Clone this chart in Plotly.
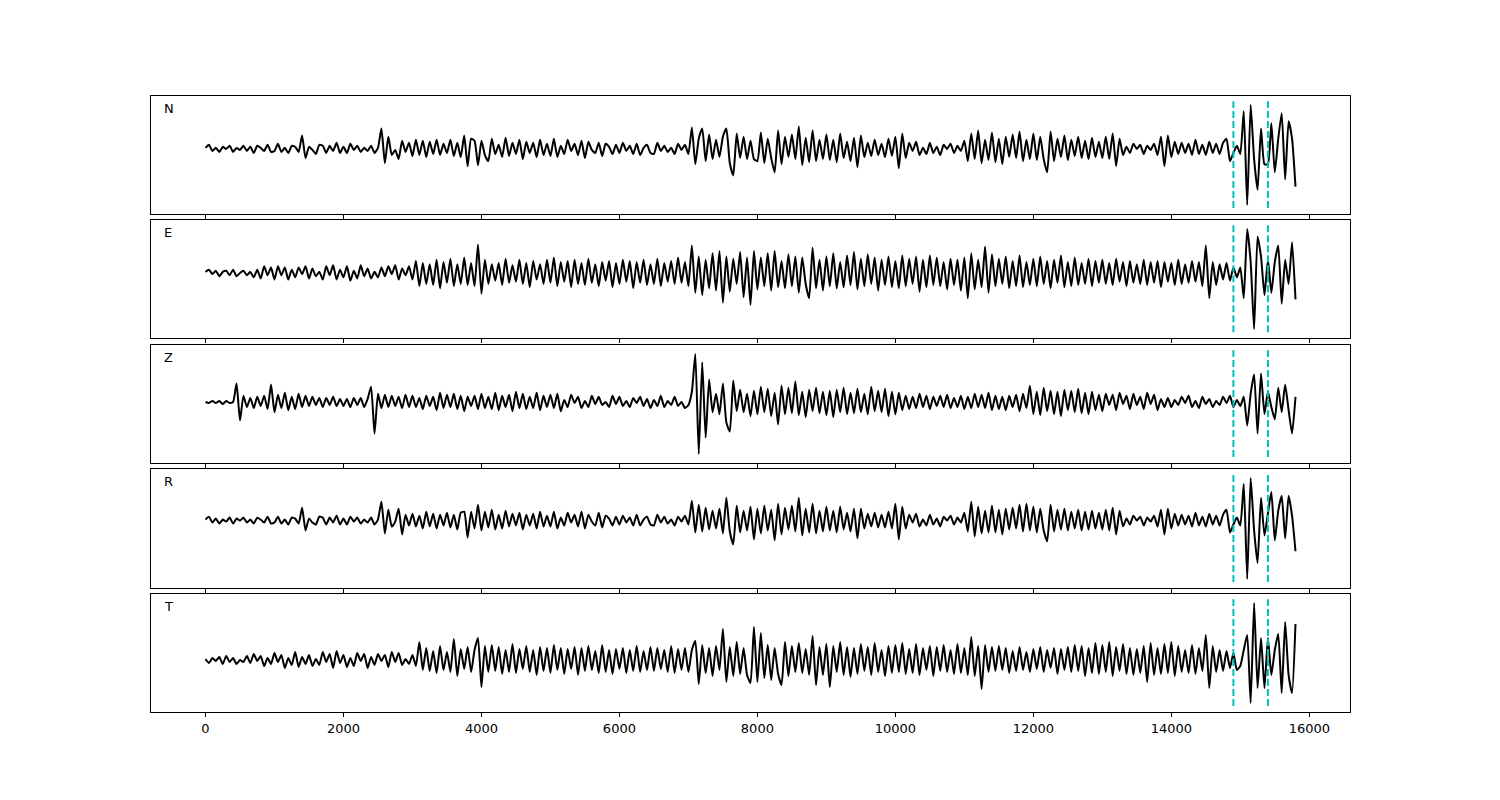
import numpy as np
import plotly.graph_objects as go

sample_step = 50
pick_times = [14900, 15400]
channel_names = ["N", "E", "Z", "R", "T"]
x_tick_values = [0, 2000, 4000, 6000, 8000, 10000, 12000, 14000, 16000]
x_tick_labels = ["0", "2000", "4000", "6000", "8000", "10000", "12000", "14000", "16000"]

north = [
    1, 4, -2, 1, -3, 2, 0, 3, -3, 1, -1, 3, -2, 2, -4, 3, 1, -2, 4, -3,
    -2, 5, -3, 1, -4, 3, 2, -3, 13, -9, 2, -1, -5, 4, 3, -4, 3, -2, 6, -4,
    2, -4, 5, -1, 3, -3, 1, -2, 3, -4, 1, 20, -14, 12, -6, -1, -10, 8, -3, 6,
    -7, 9, -6, 8, -8, 7, -5, 9, -6, 5, -4, 9, -7, 6, -8, 13, -17, 10, 8, -16,
    8, -6, -12, 10, -5, 4, -8, 11, -7, 6, -5, 9, -10, 7, -4, 6, -8, 9, -6, 5,
    -7, 10, -8, 3, -5, 9, -2, 5, -6, 8, -9, 7, -1, -4, 6, -7, 5, 2, -5, 4,
    -4, 6, -2, 3, -5, 5, -6, 1, 4, -4, -5, 6, -2, 3, -3, 1, -5, 5, -1, 4,
    -5, 21, -15, 10, 20, -12, 14, -10, 9, -8, 12, 20, -14, -26, 15, -9, 12, -10, 8, -10,
    -12, 16, -14, 10, -9, -23, 18, -15, 12, -8, 14, -10, 22, -16, 11, -13, 18, -12, 9, -10,
    14, -11, 9, -13, 15, -9, 7, -12, 11, -18, 13, -8, 6, -7, 9, -6, 5, -8, 10, -7,
    12, -19, 15, -9, 6, -2, 7, -6, 1, -5, 6, -4, 2, -6, 4, 0, 5, -4, 3, -2,
    8, -12, 15, -10, 18, -14, 9, -11, 16, -13, 10, -15, 12, -8, 14, -9, 17, -12, 9, -10,
    15, -11, 12, -10, -23, 17, -12, 10, -8, 13, -11, 9, -7, 12, -9, 8, -10, 11, -8, 7,
    -9, 12, -10, 15, -17, 10, -6, 2, -4, 5, 0, 4, -5, 3, -1, 5, -6, 12, -17, 13,
    -8, 7, -5, 6, -4, 5, -6, 9, -5, 4, -6, 7, -4, 5, -5, 6, 10, -12, -4, 3,
    -5, 37, -55, 43, -10, -40, 20, -15, -15, 25, -23, 10, 35, -30, 27, 10, -37,
]

east = [
    1, 3, -1, 2, -3, 1, 2, -2, 3, -3, 0, 2, -2, 1, -4, 3, -5, 6, -2, 5,
    -6, 6, -2, 5, -6, 3, -4, 5, -1, 6, -5, 4, -3, 1, -6, 6, -2, 7, -6, 3,
    -4, 6, -7, 2, -5, 7, -3, 4, -5, 1, -4, 5, -3, 6, -1, 7, -6, 4, -2, 6,
    -6, 11, -12, 9, -10, 8, -11, 12, -14, 10, -9, 13, -12, 8, -10, 14, -11, 9, -12, 26,
    -19, 12, -10, 8, -7, 9, -11, 13, -9, 7, -8, 12, -10, 9, -13, 11, -6, 8, -10, 12,
    -9, 14, -12, 10, -8, 11, -13, 12, -10, 9, -11, 13, -9, 8, -12, 10, -7, 11, -13, 9,
    -10, 12, -8, 11, -14, 10, -9, 12, -11, 8, -10, 13, -12, 9, -8, 11, -10, 14, -9, 10,
    -12, 25, -18, 15, -20, 12, -14, 18, -16, 20, -27, 15, -17, 13, -10, 19, -22, 14, -29, 20,
    -15, 14, -12, 18, -16, 20, -13, 11, -14, 17, -12, 15, -18, 14, -10, -23, 23, -14, 12, -16,
    15, -12, 18, -14, 10, -13, 16, -11, 19, -15, 13, -12, 17, -10, 14, -16, 12, -11, 15, -13,
    11, -14, 16, -12, 13, -10, 15, -17, 12, -13, 16, -11, 14, -12, 10, -15, 13, -11, 12, -16,
    14, -23, 18, -15, 12, -13, 24, -18, 17, -12, 13, -10, 15, -14, 11, -12, 16, -13, 10, -11,
    13, -12, 15, -10, 11, -14, 12, -9, 16, -13, 10, -12, 14, -11, 9, -10, 13, -12, 11, -9,
    12, -10, 9, -11, 13, -8, 10, -12, 11, -9, 8, -10, 12, -11, 10, -9, 11, -13, 10, -8,
    9, -11, 12, -10, 8, -9, 11, -8, 10, -12, 25, -23, 10, -11, 8, -6, 9, -7, 5, -4,
    5, -23, 40, 10, -51, 33, 15, -20, 12, -18, 10, 25, -28, 12, -10, 28, -24,
]

vertical = [
    0, -1, 1, -1, 1, -2, 1, -1, 0, 18, -18, 6, -5, 4, -6, 5, -4, 6, -7, 17,
    -10, 7, -6, 9, -8, 5, -7, 8, -5, 6, -4, 5, -3, 4, -5, 4, -3, 5, -4, 3,
    -4, 3, -5, 4, -3, 4, -5, 3, 15, -31, 8, -6, 7, -5, 6, -4, 5, -6, 7, -5,
    6, -5, 4, -7, 6, -4, 5, -8, 9, -6, 7, -5, 8, -7, 6, -9, 5, -4, 6, -7,
    8, -6, 5, -7, 9, -8, 6, -5, 7, -9, 10, -6, 8, -7, 5, -6, 9, -8, 6, -5,
    7, -6, 8, -9, 2, -5, 7, -1, 5, -6, 1, -5, 6, -2, 5, -3, 0, -5, 6, -2,
    5, -4, 1, -5, 4, -1, 5, -4, 3, -6, 2, -4, 6, -5, 1, -3, 5, -4, 0, -6,
    -3, 10, 47, -51, 39, -35, 22, -10, 8, -12, 18, -20, -29, 21, -9, 12, -10, 8, -14, 11,
    -12, 15, -10, 13, -14, 9, -22, 16, -12, 14, -11, 20, -13, 10, -15, 12, -9, 14, -11, 10,
    -13, 11, -15, 12, -10, 14, -12, 9, -11, 13, -10, 8, -12, 15, -9, 11, -10, 13, -14, 10,
    -12, 9, -8, 6, -7, 5, -6, 8, -5, 6, -7, 5, -4, 6, -5, 7, -6, 4, -5, 6,
    -7, 5, -6, 8, -5, 7, -6, 9, -8, 6, -7, 5, -8, 6, -5, 7, -9, 8, -6, 16,
    -12, 10, -13, 14, -9, 11, -12, 10, -14, 12, -8, 11, -10, 13, -11, 9, -12, 10, -8, 7,
    -9, 8, -3, 7, -8, 9, -2, 6, -7, 8, -3, 5, -7, 9, -2, 7, -8, 3, -5, 4,
    -5, 2, -3, 5, -1, 6, -5, 1, -6, 5, -2, 3, -5, 1, -3, 5, -1, 6, -5, 2,
    -4, 5, -23, 8, 27, -31, 28, -12, 10, -5, -17, 14, -10, 17, -8, -31, 5,
]

radial = [
    1, 4, -2, 2, -3, 1, -1, 3, -3, 2, 0, 3, -2, 1, -3, 3, 1, -2, 4, -3,
    -2, 4, -3, 1, -4, 3, 2, -3, 13, -10, 2, -2, -4, 4, 3, -4, 3, -2, 5, -4,
    2, -4, 4, -1, 3, -3, 1, -2, 3, -4, 1, 19, -13, 11, -6, -1, 12, -14, 6, -5,
    7, -6, 5, -8, 9, -6, 7, -8, 6, -5, 8, -7, 6, -9, 8, 9, -17, 9, -8, 16,
    -10, 9, -7, 11, -9, 6, -8, 10, -6, 7, -5, 8, -9, 6, -5, 7, -8, 9, -6, 5,
    -6, 9, -8, 3, -5, 8, -2, 6, -6, 9, -8, 6, -1, -5, 8, -7, 5, 2, -5, 4,
    -4, 5, -2, 3, -5, 6, -5, 1, 4, -4, -5, 6, -2, 4, -3, 1, -5, 4, -1, 5,
    -4, 20, -12, 16, -11, 13, -9, 10, -8, 12, -13, 23, -11, -24, 15, -12, 10, -10, 14, -19,
    12, -13, 15, -10, 11, -20, 17, -14, 13, -9, 15, -11, 23, -15, 12, -12, 17, -13, 10, -11,
    14, -10, 10, -12, 14, -9, 8, -11, 12, -18, 12, -8, 7, -6, 8, -7, 6, -7, 9, -8,
    17, -19, 14, -8, 6, -2, 7, -6, 1, -5, 6, -4, 2, -6, 4, 0, 5, -4, 3, -2,
    8, -11, 19, -16, 14, -13, 10, -12, 15, -12, 11, -14, 12, -9, 13, -8, 16, -11, 17, -10,
    14, -12, 12, -10, -21, 16, -11, 11, -9, 12, -10, 9, -8, 11, -10, 9, -9, 10, -8, 8,
    -9, 11, -10, 13, -14, 10, -6, 2, -4, 5, 0, 4, -5, 3, -1, 5, -6, 11, -14, 12,
    -8, 7, -5, 6, -4, 5, -6, 8, -5, 4, -6, 7, -4, 5, -5, 6, 11, -12, -4, 3,
    -5, 37, -59, 43, -10, -43, 23, -15, 7, 29, -20, 10, 25, -18, 25, 5, -31,
]

transverse = [
    1, -3, 2, -1, 3, -4, 4, -2, 2, -4, 0, -2, 4, -3, 6, -1, 4, -6, 2, -4,
    7, -2, 5, -8, 2, -5, 8, -7, 3, -4, 5, -6, 1, -5, 8, -2, 6, -8, 9, -3,
    5, -7, 2, -6, 7, -1, 6, -8, 3, -5, 6, -1, 5, -7, 8, -2, 7, -5, 1, -4,
    5, -6, 18, -10, 12, -11, 9, -13, 14, -10, 8, -12, 21, -16, 11, -9, 13, -12, 10, 22,
    -27, 14, -12, 15, -11, 13, -14, 10, -12, 16, -13, 11, -9, 14, -12, 10, -15, 13, -11, 12,
    -13, 15, -10, 12, -14, 11, -9, 13, -15, 12, -11, 14, -10, 9, -13, 15, -12, 10, -14, 11,
    -9, 12, -13, 10, -11, 14, -12, 9, -10, 13, -11, 12, -9, 10, -12, 14, -13, 11, -10, 12,
    -12, 10, 19, -24, 15, -13, 12, -16, 14, -10, 31, -22, 13, -16, 18, -14, 12, -15, -23, 33,
    -22, 27, -18, 15, -20, 12, -14, -25, 18, -16, 14, -12, 17, -13, 11, -15, 24, -25, 13, -15,
    16, -27, 14, -12, 18, -15, 13, -17, 12, -14, 16, -11, 13, -15, 17, -12, 10, -16, 14, -13,
    15, -12, 17, -14, 11, -13, 16, -15, 12, -10, 14, -16, 13, -11, 15, -12, 10, -14, 16, -13,
    12, -15, 23, -16, 14, -29, 15, -12, 13, -11, 14, -10, 12, -13, 9, -11, 13, -10, 8, -12,
    11, -9, 13, -12, 10, -8, 12, -14, 11, -10, 13, -12, 15, -11, 14, -16, 12, -13, 17, -14,
    15, -12, 18, -16, 13, -11, 16, -14, 12, -15, 11, -13, 14, -22, 17, -15, 12, -14, 16, -13,
    18, -16, 14, -12, 10, -13, 15, -14, 12, -11, 25, -28, 14, -12, 10, -11, 9, -8, 7, -10,
    -6, 10, 25, -43, 57, -28, 22, -28, 22, -15, 10, 26, -33, 38, -15, -33, 36,
]

channels = [north, east, vertical, radial, transverse]
for name, vals in zip(channel_names, channels):
    assert len(vals) == 317, (name, len(vals))

# panel domains (paper fraction), top to bottom
domains = [[0.8084, 1.0], [0.6071, 0.7987], [0.4042, 0.5958], [0.2013, 0.3945], [0.0, 0.1916]]

fig = go.Figure()
layout = dict(
    width=1500, height=800,
    margin=dict(l=143, r=158, t=88, b=96),
    paper_bgcolor="white", plot_bgcolor="white",
    font=dict(family="DejaVu Sans", size=13, color="black"),
    showlegend=False,
    shapes=[], annotations=[],
)

for i, (name, vals) in enumerate(zip(channel_names, channels)):
    sfx = "" if i == 0 else str(i + 1)
    t = np.arange(len(vals)) * sample_step
    fig.add_trace(go.Scatter(
        x=t, y=vals, mode="lines",
        line=dict(color="black", width=2, shape="spline", smoothing=0.5),
        xaxis="x" + sfx, yaxis="y" + sfx, hoverinfo="skip",
    ))
    lo, hi = min(vals), max(vals)
    pad = 0.09 * (hi - lo)
    layout["xaxis" + sfx] = dict(
        domain=[0, 1], range=[-790, 16590], anchor="y" + sfx,
        tickvals=x_tick_values, ticktext=x_tick_labels, showticklabels=(i == 4),
        ticks="outside", ticklen=4, tickwidth=1, tickcolor="black",
        showline=True, mirror=True, linecolor="black", linewidth=1,
        showgrid=False, zeroline=False,
        tickfont=dict(size=13, color="black"),
    )
    layout["yaxis" + sfx] = dict(
        domain=domains[i], range=[lo - pad, hi + pad], anchor="x" + sfx,
        showticklabels=False, ticks="",
        showline=True, mirror=True, linecolor="black", linewidth=1,
        showgrid=False, zeroline=False,
    )
    for pt in pick_times:
        layout["shapes"].append(dict(
            type="line", xref="x" + sfx, yref="y" + sfx + " domain",
            x0=pt, x1=pt, y0=0.05, y1=0.955,
            line=dict(color="rgb(0,191,191)", width=2, dash="7px,3px"),
            layer="above",
        ))
    layout["annotations"].append(dict(
        text=name, xref="x" + sfx + " domain", yref="y" + sfx + " domain",
        x=0.009, y=0.975, xanchor="left", yanchor="top", showarrow=False,
        font=dict(size=13, color="black", family="DejaVu Sans"),
    ))

fig.update_layout(**layout)
fig.write_html("out.html")
